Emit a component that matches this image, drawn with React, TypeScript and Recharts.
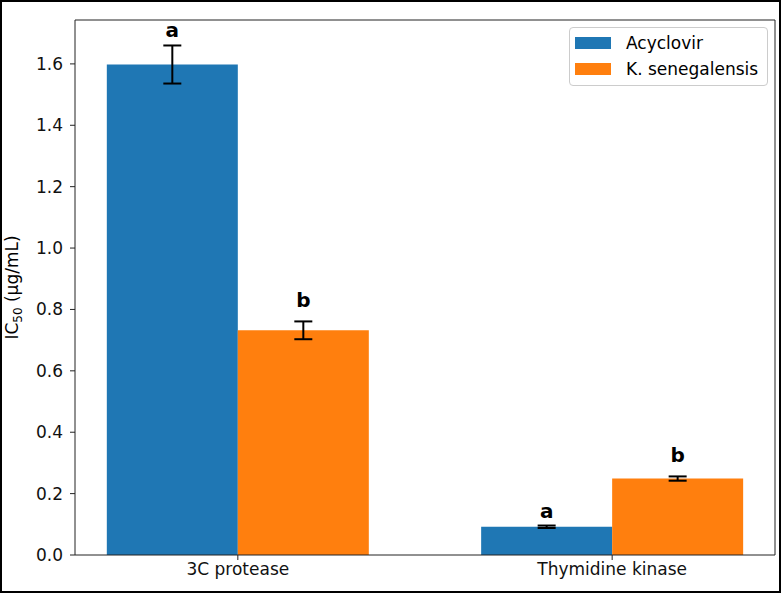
import React from 'react';
import {
  BarChart,
  Bar,
  XAxis,
  YAxis,
  ErrorBar,
  LabelList,
  Legend,
  ReferenceLine,
} from 'recharts';

// Categories and measured IC50 values (µg/mL) with their standard deviations
const categories = ['3C protease', 'Thymidine kinase'];
const acyclovirValues = [1.598, 0.092];
const acyclovirErrors = [0.062, 0.004];
const senegalensisValues = [0.732, 0.249];
const senegalensisErrors = [0.029, 0.007];
const acyclovirLetters = ['a', 'a'];
const senegalensisLetters = ['b', 'b'];

const yTicks = [0, 0.2, 0.4, 0.6, 0.8, 1.0, 1.2, 1.4, 1.6];
const X_MIN = -0.435;
const X_MAX = 1.435;
const Y_MAX = 1.743;

const FONT = '"DejaVu Sans", "Liberation Sans", sans-serif';
const BLUE = '#1f77b4';
const ORANGE = '#ff7f0e';
const AXIS = '#222';

const data = categories.map((name, i) => ({
  pos: i,
  name,
  acyclovir: acyclovirValues[i],
  acyclovirErr: acyclovirErrors[i],
  acyclovirLetter: acyclovirLetters[i],
  senegalensis: senegalensisValues[i],
  senegalensisErr: senegalensisErrors[i],
  senegalensisLetter: senegalensisLetters[i],
}));

// Significance letter drawn just above the top cap of the error bar
const makeLetterRenderer =
  (values: number[], errors: number[], gap: number) => (props: any) => {
    const { x, y, width, height, value, index } = props;
    const v = values[index];
    const pxPerUnit = v > 0 ? Math.abs(height) / v : 0;
    const capY = y - errors[index] * pxPerUnit;
    return (
      <text
        x={x + width / 2}
        y={capY - gap}
        textAnchor="middle"
        fontFamily={FONT}
        fontWeight="bold"
        fontSize={20}
        fill="#000"
      >
        {value}
      </text>
    );
  };

const YAxisTitle = (props: any) => {
  const { viewBox } = props;
  const cx = 18;
  const cy = viewBox.y + viewBox.height / 2;
  return (
    <text
      x={cx}
      y={cy}
      transform={`rotate(-90, ${cx}, ${cy})`}
      textAnchor="middle"
      fontFamily={FONT}
      fontSize={17}
      fill="#000"
    >
      IC
      <tspan fontSize={12} dy={4}>
        50
      </tspan>
      <tspan dy={-4}> (μg/mL)</tspan>
    </text>
  );
};

const LegendBox = (props: any) => {
  const { payload } = props;
  return (
    <div
      style={{
        boxSizing: 'border-box',
        width: 199,
        height: 59,
        border: '1px solid #cccccc',
        borderRadius: 4,
        background: 'rgba(255,255,255,0.8)',
        padding: '2px 0 0 5px',
        fontFamily: FONT,
        fontSize: 17,
        color: '#000',
      }}
    >
      {(payload || []).map((p: any) => (
        <div
          key={p.value}
          style={{ display: 'flex', alignItems: 'center', height: 26 }}
        >
          <span
            style={{
              display: 'inline-block',
              width: 36,
              height: 12,
              background: p.color,
              marginRight: 15,
            }}
          />
          <span>{p.value}</span>
        </div>
      ))}
    </div>
  );
};

export default function App() {
  return (
    <div
      style={{
        position: 'absolute',
        left: 0,
        top: 0,
        width: 784,
        height: 594,
        background: '#fff',
      }}
    >
      <BarChart
        width={784}
        height={594}
        data={data}
        margin={{ top: 20, right: 9, bottom: 9, left: 15 }}
        barCategoryGap="15%"
        barGap={0}
      >
        <XAxis
          dataKey="pos"
          type="number"
          domain={[X_MIN, X_MAX]}
          allowDataOverflow
          ticks={[0, 1]}
          tickFormatter={(v: number) => categories[v] ?? ''}
          height={30}
          tickSize={5}
          tickMargin={3}
          stroke={AXIS}
          tick={{ fill: '#111', fontSize: 17, fontFamily: FONT }}
        />
        <YAxis
          type="number"
          domain={[0, Y_MAX]}
          allowDataOverflow
          ticks={yTicks}
          tickFormatter={(v: number) => v.toFixed(1)}
          width={60}
          tickSize={5}
          tickMargin={7}
          stroke={AXIS}
          tick={{ fill: '#111', fontSize: 17, fontFamily: FONT }}
          label={{ content: YAxisTitle }}
        />
        <ReferenceLine y={Y_MAX} stroke={AXIS} />
        <ReferenceLine x={X_MAX} stroke={AXIS} />
        <Bar
          dataKey="acyclovir"
          name="Acyclovir"
          fill={BLUE}
          isAnimationActive={false}
        >
          <ErrorBar
            dataKey="acyclovirErr"
            width={9}
            strokeWidth={2}
            stroke="#000"
            direction="y"
          />
          <LabelList
            dataKey="acyclovirLetter"
            content={makeLetterRenderer(acyclovirValues, acyclovirErrors, 8)}
          />
        </Bar>
        <Bar
          dataKey="senegalensis"
          name="K. senegalensis"
          fill={ORANGE}
          isAnimationActive={false}
        >
          <ErrorBar
            dataKey="senegalensisErr"
            width={9}
            strokeWidth={2}
            stroke="#000"
            direction="y"
          />
          <LabelList
            dataKey="senegalensisLetter"
            content={makeLetterRenderer(senegalensisValues, senegalensisErrors, 14)}
          />
        </Bar>
        <Legend
          layout="vertical"
          align="center"
          verticalAlign="middle"
          wrapperStyle={{ left: 569, top: 27, width: 199, height: 59 }}
          content={LegendBox}
        />
      </BarChart>
      <div
        style={{
          position: 'absolute',
          left: 0,
          top: 0,
          width: 781,
          height: 593,
          border: '2px solid #000',
          boxSizing: 'border-box',
          pointerEvents: 'none',
        }}
      />
    </div>
  );
}
